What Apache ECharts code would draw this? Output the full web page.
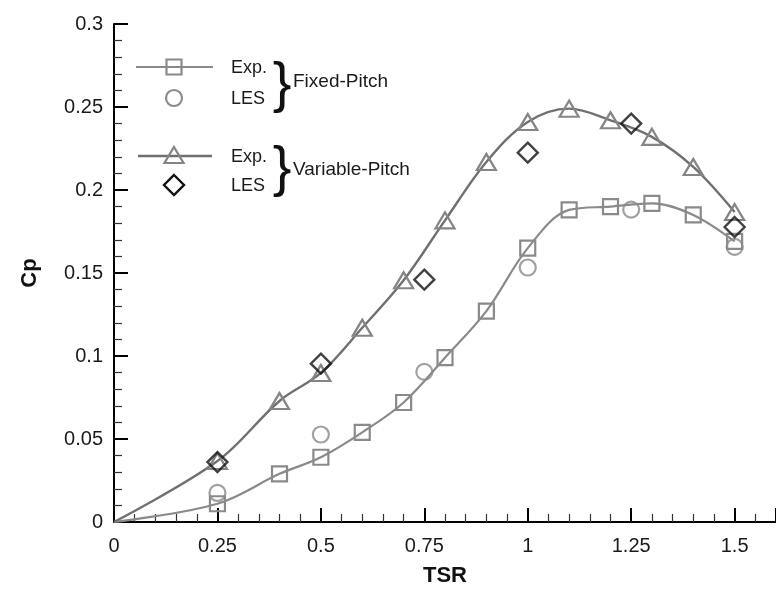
<!DOCTYPE html>
<html>
<head>
<meta charset="utf-8">
<script src="https://cdn.jsdelivr.net/npm/echarts@6/dist/echarts.min.js"></script>
<style>
html,body{margin:0;padding:0;background:#fff;}
#c{width:776px;height:595px;}
</style>
</head>
<body>
<div id="c"></div>
<script>
// Data
const tsrFixedExp = [0, 0.25, 0.4, 0.5, 0.6, 0.7, 0.8, 0.9, 1.0, 1.1, 1.2, 1.3, 1.4, 1.5];
const cpFixedExp  = [0, 0.011, 0.029, 0.039, 0.054, 0.072, 0.099, 0.127, 0.165, 0.188, 0.190, 0.192, 0.185, 0.169];
const tsrFixedLES = [0.25, 0.5, 0.75, 1.0, 1.25, 1.5];
const cpFixedLES  = [0.0175, 0.0527, 0.0904, 0.1533, 0.1882, 0.1657];
const tsrVarExp = [0, 0.25, 0.4, 0.5, 0.6, 0.7, 0.8, 0.9, 1.0, 1.1, 1.2, 1.3, 1.4, 1.5];
const cpVarExp  = [0, 0.0367, 0.0729, 0.0898, 0.117, 0.1456, 0.1817, 0.2169, 0.241, 0.249, 0.242, 0.232, 0.2139, 0.1867];
const tsrVarLES = [0.25, 0.5, 0.75, 1.0, 1.25, 1.5];
const cpVarLES  = [0.0361, 0.0954, 0.146, 0.2225, 0.240, 0.1777];

const xTicks = [0, 0.25, 0.5, 0.75, 1, 1.25, 1.5];
const yTicks = [0, 0.05, 0.1, 0.15, 0.2, 0.25, 0.3];

const FONT = "'Liberation Sans', Arial, Helvetica, sans-serif";
const GRAY = '#8a8a8a';
const GRAY2 = '#858585';
const LINE2 = '#707070';

function pairs(xs, ys, hideOrigin) {
  return xs.map((x, i) => {
    if (hideOrigin && x === 0 && ys[i] === 0) return { value: [x, ys[i]], symbol: 'none' };
    return [x, ys[i]];
  });
}

const chart = echarts.init(document.getElementById('c'), null, { renderer: 'canvas' });

// legend key (drawn as graphic)
function legendText(x, y, t, size) {
  return { type: 'text', x: x, y: y, style: { text: t, fontSize: size, fontFamily: FONT, fill: '#1a1a1a', verticalAlign: 'middle', align: 'left' } };
}
const legendGraphic = [
  { type: 'line', shape: { x1: 136, y1: 67, x2: 213, y2: 67 }, style: { stroke: GRAY, lineWidth: 2.2 } },
  { type: 'rect', shape: { x: 174 - 7.5, y: 67 - 7.5, width: 15, height: 15 }, style: { fill: 'none', stroke: GRAY, lineWidth: 2.2 } },
  { type: 'circle', shape: { cx: 174, cy: 98, r: 8 }, style: { fill: 'none', stroke: GRAY, lineWidth: 2.2 } },
  { type: 'line', shape: { x1: 138, y1: 156, x2: 212, y2: 156 }, style: { stroke: LINE2, lineWidth: 2.4 } },
  { type: 'polygon', shape: { points: [[174, 147], [183.5, 163], [164.5, 163]] }, style: { fill: 'none', stroke: GRAY2, lineWidth: 2.2 } },
  { type: 'polygon', shape: { points: [[174, 175], [184, 185], [174, 195], [164, 185]] }, style: { fill: 'none', stroke: '#111', lineWidth: 2.4 } },
  legendText(231, 68, 'Exp.', 18),
  legendText(231, 99, 'LES', 18),
  legendText(231, 157, 'Exp.', 18),
  legendText(231, 186, 'LES', 18),
  { type: 'text', x: 282, y: 86, style: { text: '}', fontSize: 56, fontFamily: FONT, fill: '#111', align: 'center', verticalAlign: 'middle' } },
  legendText(293, 82, 'Fixed-Pitch', 19),
  { type: 'text', x: 282, y: 170, style: { text: '}', fontSize: 56, fontFamily: FONT, fill: '#111', align: 'center', verticalAlign: 'middle' } },
  legendText(293, 170, 'Variable-Pitch', 19)
];

const option = {
  backgroundColor: '#fff',
  animation: false,
  textStyle: { fontFamily: FONT },
  grid: { left: 114, right: -8, top: 24, bottom: 73, containLabel: false },
  xAxis: {
    type: 'value', min: 0, max: 1.6, interval: 0.25,
    name: 'TSR', nameLocation: 'middle', nameGap: 43,
    nameTextStyle: { fontSize: 22, fontWeight: 'bold', color: '#111', fontFamily: FONT },
    axisLine: { show: true, onZero: false, lineStyle: { color: '#000', width: 2 } },
    axisTick: { show: true, inside: true, length: 14, lineStyle: { color: '#000', width: 2 } },
    minorTick: { show: true, splitNumber: 5, length: 8, lineStyle: { color: '#333', width: 1.2 } },
    axisLabel: { fontSize: 20, color: '#1a1a1a', margin: 14, showMaxLabel: false,
      formatter: v => (xTicks.indexOf(+v.toFixed(2)) >= 0 ? String(+v.toFixed(2)) : '') },
    splitLine: { show: false }
  },
  yAxis: {
    type: 'value', min: 0, max: 0.3, interval: 0.05,
    name: 'Cp', nameLocation: 'middle', nameGap: 73,
    nameTextStyle: { fontSize: 22, fontWeight: 'bold', color: '#111', fontFamily: FONT },
    axisLine: { show: true, onZero: false, lineStyle: { color: '#000', width: 2 } },
    axisTick: { show: true, inside: true, length: 14, lineStyle: { color: '#000', width: 2 } },
    minorTick: { show: true, splitNumber: 5, length: 8, lineStyle: { color: '#333', width: 1.2 } },
    axisLabel: { fontSize: 20, color: '#1a1a1a', margin: 11,
      formatter: v => (yTicks.indexOf(+v.toFixed(2)) >= 0 ? String(+v.toFixed(2)) : '') },
    splitLine: { show: false }
  },
  series: [
    {
      name: 'Fixed-Pitch Exp.', type: 'line', smooth: 0.35,
      data: pairs(tsrFixedExp, cpFixedExp, true),
      symbol: 'rect', symbolSize: 15, showAllSymbol: true,
      lineStyle: { color: GRAY, width: 2.2 },
      itemStyle: { color: 'rgba(255,255,255,0)', borderColor: GRAY, borderWidth: 2.2 },
      z: 2
    },
    {
      name: 'Fixed-Pitch LES', type: 'scatter',
      data: pairs(tsrFixedLES, cpFixedLES, false),
      symbol: 'circle', symbolSize: 16,
      itemStyle: { color: 'rgba(255,255,255,0)', borderColor: GRAY, borderWidth: 2.2 },
      z: 3
    },
    {
      name: 'Variable-Pitch Exp.', type: 'line', smooth: 0.35,
      data: pairs(tsrVarExp, cpVarExp, true),
      symbol: 'triangle', symbolSize: [19, 16], showAllSymbol: true,
      lineStyle: { color: LINE2, width: 2.4 },
      itemStyle: { color: 'rgba(255,255,255,0)', borderColor: GRAY2, borderWidth: 2.2 },
      z: 2
    },
    {
      name: 'Variable-Pitch LES', type: 'scatter',
      data: pairs(tsrVarLES, cpVarLES, false),
      symbol: 'diamond', symbolSize: 20,
      itemStyle: { color: 'rgba(255,255,255,0)', borderColor: '#111', borderWidth: 2.4 },
      z: 4
    }
  ],
  graphic: legendGraphic
};
chart.setOption(option);
</script>
</body>
</html>
